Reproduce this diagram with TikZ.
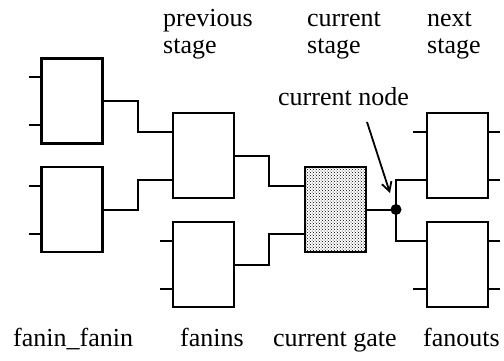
\documentclass[tikz,border=0pt]{standalone}
\usepackage{fontspec}
\setmainfont{Liberation Serif}
\usetikzlibrary{arrows.meta,patterns}
\begin{document}
\begin{tikzpicture}[x=1pt,y=-1pt,
  gatebox/.style={draw,line width=2.4pt,minimum width=61pt,minimum height=85pt,outer sep=0pt,inner sep=0pt},
  curgate/.style={gatebox,pattern=crosshatch dots},
  wire/.style={line width=2pt},
  junction/.style={circle,fill=black,minimum size=11pt,inner sep=0pt,outer sep=0pt},
  lbl/.style={font=\fontsize{26}{26.7}\selectfont,inner sep=0pt,anchor=base west,align=left}]
\useasboundingbox (0,0) rectangle (504,360);
% gates
\node[gatebox] (ff1) at (72,101) {};
\node[gatebox] (ff2) at (72,209.5) {};
\node[gatebox] (f1) at (203.5,155.5) {};
\node[gatebox] (f2) at (203.5,264.5) {};
\node[curgate] (g) at (335.5,209.5) {};
\node[gatebox] (o1) at (457.5,155.5) {};
\node[gatebox] (o2) at (457.5,264.5) {};
\node[junction] (cn) at (396,209.5) {};
% input stubs
\foreach \n in {ff1,ff2,f2}{
  \draw[wire] ([yshift=24pt]\n.west) -- ++(-13,0);
  \draw[wire] ([yshift=-24pt]\n.west) -- ++(-13,0);
}
\draw[wire] ([yshift=24pt]o1.west) -- ++(-14,0);
\draw[wire] ([yshift=-24pt]o2.west) -- ++(-14,0);
% output stubs of fanouts
\foreach \n in {o1,o2}{
  \draw[wire] ([yshift=24pt]\n.east) -- ++(12,0);
  \draw[wire] ([yshift=-24pt]\n.east) -- ++(12,0);
}
% connections
\draw[wire] (ff1.east) -- ++(35,0) |- ([yshift=24pt]f1.west);
\draw[wire] (ff2.east) -- ++(35,0) |- ([yshift=-24pt]f1.west);
\draw[wire] (f1.east) -- ++(35,0) |- ([yshift=24pt]g.west);
\draw[wire] (f2.east) -- ++(35,0) |- ([yshift=-24pt]g.west);
\draw[wire] (g.east) -- (cn);
\draw[wire] (cn.center) |- ([yshift=-24pt]o1.west);
\draw[wire] (cn.center) |- ([yshift=24pt]o2.west);
% labels (base anchor = last line)
\node[lbl] (lprev) at (163,53.3) {previous\\stage};
\node[lbl] (lcur) at (307,53.3) {current\\stage};
\node[lbl] (lnext) at (427,53.3) {next\\stage};
\node[lbl] (lnode) at (278,105) {current node};
\node[lbl] (lff) at (13,346) {fanin\_fanin};
\node[lbl] (lfi) at (180,346) {fanins};
\node[lbl] (lcg) at (273,346) {current gate};
\node[lbl] (lfo) at (423,346) {fanouts};
% arrow
\coordinate (atail) at (367,122);
\coordinate (ahead) at (390,193);
\draw[line width=1.8pt,-{Straight Barb[length=9pt,width=10pt,line width=1.8pt]}] (atail) -- (ahead);
\end{tikzpicture}
\end{document}
